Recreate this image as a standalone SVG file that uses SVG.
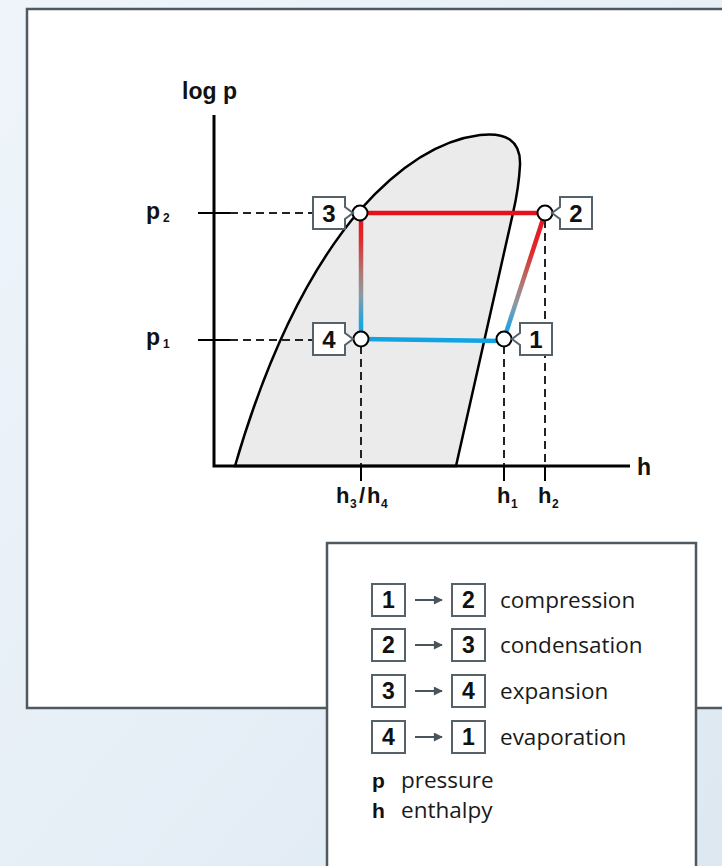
<svg xmlns="http://www.w3.org/2000/svg" width="722" height="866" viewBox="0 0 722 866">
<defs>
<linearGradient id="bg" x1="0" y1="0" x2="1" y2="1">
<stop offset="0" stop-color="#eef4fa"/>
<stop offset="0.5" stop-color="#e7eff7"/>
<stop offset="1" stop-color="#dde8f1"/>
</linearGradient>
<linearGradient id="g34" gradientUnits="userSpaceOnUse" x1="0" y1="213" x2="0" y2="339">
<stop offset="0" stop-color="#e5121c"/>
<stop offset="0.2" stop-color="#e0282b"/>
<stop offset="0.48" stop-color="#ad7a74"/>
<stop offset="0.65" stop-color="#8b9ba5"/>
<stop offset="0.85" stop-color="#2aa3dc"/>
<stop offset="1" stop-color="#12a3e3"/>
</linearGradient>
<linearGradient id="g21" gradientUnits="userSpaceOnUse" x1="0" y1="213" x2="0" y2="339">
<stop offset="0" stop-color="#e5121c"/>
<stop offset="0.3" stop-color="#e0282b"/>
<stop offset="0.55" stop-color="#b07670"/>
<stop offset="0.72" stop-color="#8b9ba5"/>
<stop offset="0.9" stop-color="#2aa3dc"/>
<stop offset="1" stop-color="#12a3e3"/>
</linearGradient>
<marker id="arr" viewBox="0 0 10 10" refX="9" refY="5" markerWidth="10" markerHeight="9" orient="auto" markerUnits="userSpaceOnUse">
<path d="M0,0 L10,5 L0,10 Z" fill="#4a555b"/>
</marker>
</defs>
<style>
.frame{fill:#fff;stroke:#4f5a60;stroke-width:2.5}
.tag{fill:#fff;stroke:#56626a;stroke-width:2}
.pt{fill:#fff;stroke:#000;stroke-width:2}
.dash{stroke:#222;stroke-width:2;stroke-dasharray:8 5;fill:none}
.solid{stroke:#000;stroke-width:2;fill:none}
.axis{stroke:#000;stroke-width:3;fill:none}
.lbl{font-family:"Liberation Sans",Arial,sans-serif;font-weight:bold;fill:#111}
.num{font-family:"Liberation Sans",Arial,sans-serif;font-weight:bold;font-size:24px;fill:#111;text-anchor:middle}
.lnum{font-family:"Liberation Sans",Arial,sans-serif;font-weight:bold;font-size:23px;fill:#111;text-anchor:middle}
.ltxt{font-family:"Open Sans",sans-serif;font-size:22.5px;fill:#1a1a1a}
.sub{font-family:"Liberation Sans",Arial,sans-serif;font-weight:bold;font-size:12px;fill:#111}
</style>
<rect x="0" y="0" width="722" height="866" fill="url(#bg)"/>
<rect class="frame" x="27" y="9" width="710" height="699"/>

<g id="dome">
<path d="M235,466 C260,380 300,280 360,210 C400,165 440,140 480,135 C505,132 521,140 520,165 C519,185 516,200 513,213 L456,466 Z" fill="#ebebeb" stroke="#000" stroke-width="2.5"/>
</g>

<g id="connectors">
<line class="dash" x1="230" y1="213" x2="313" y2="213"/>
<line class="dash" x1="230" y1="340" x2="313" y2="340"/>
<line class="dash" x1="361" y1="346" x2="361" y2="466"/>
<line class="dash" x1="504" y1="346" x2="504" y2="466"/>
<line class="dash" x1="545" y1="220" x2="545" y2="466"/>
<line class="solid" x1="361" y1="466" x2="361" y2="481"/>
<line class="solid" x1="504" y1="466" x2="504" y2="481"/>
<line class="solid" x1="545" y1="466" x2="545" y2="481"/>
<line class="solid" x1="198" y1="213" x2="230" y2="213"/>
<line class="solid" x1="198" y1="340" x2="230" y2="340"/>
<line x1="361" y1="213" x2="545" y2="213" stroke="#e5121c" stroke-width="4.5"/>
<line x1="545" y1="213" x2="504" y2="339" stroke="url(#g21)" stroke-width="4.5"/>
<line x1="361" y1="213" x2="361" y2="339" stroke="url(#g34)" stroke-width="4.5"/>
<line x1="361" y1="339" x2="504" y2="341" stroke="#12a3e3" stroke-width="4.5"/>
</g>

<g id="axes">
<polyline class="axis" points="214,115 214,466 630,466"/>
<text class="lbl" x="182" y="99" font-size="23">log p</text>
<text class="lbl" x="637" y="475" font-size="23">h</text>
<text class="lbl" x="146" y="219" font-size="23">p</text>
<text class="sub" x="163" y="222">2</text>
<text class="lbl" x="146" y="345" font-size="23">p</text>
<text class="sub" x="163" y="348">1</text>
<text class="lbl" x="336" y="503" font-size="22">h</text>
<text class="sub" x="350" y="508">3</text>
<text class="lbl" x="359" y="503" font-size="22">/</text>
<text class="lbl" x="367" y="503" font-size="22">h</text>
<text class="sub" x="381" y="508">4</text>
<text class="lbl" x="497" y="503" font-size="22">h</text>
<text class="sub" x="511" y="508">1</text>
<text class="lbl" x="538" y="503" font-size="22">h</text>
<text class="sub" x="552" y="508">2</text>
</g>

<g id="node-1">
<circle class="pt" cx="504" cy="339" r="7.5"/>
<path class="tag" d="M520,323 H552 V355 H520 V345 L512,339 L520,333 Z"/>
<text class="num" x="536" y="347.5">1</text>
</g>
<g id="node-2">
<circle class="pt" cx="545" cy="213" r="7.5"/>
<path class="tag" d="M560,197 H592 V229 H560 V219 L552,213 L560,207 Z"/>
<text class="num" x="576" y="221.5">2</text>
</g>
<g id="node-3">
<circle class="pt" cx="360" cy="213" r="7.5"/>
<path class="tag" d="M313,197 H345 V207 L353,213 L345,219 V229 H313 Z"/>
<text class="num" x="329" y="221.5">3</text>
</g>
<g id="node-4">
<circle class="pt" cx="361" cy="339" r="7.5"/>
<path class="tag" d="M313,323 H345 V333 L353,339 L345,345 V355 H313 Z"/>
<text class="num" x="329" y="347.5">4</text>
</g>

<g id="legend">
<rect class="frame" x="327" y="543" width="369" height="340"/>
<rect class="tag" x="372" y="584" width="33" height="32"/>
<text class="lnum" x="388.5" y="608">1</text>
<line x1="415" y1="600" x2="442" y2="600" stroke="#4a555b" stroke-width="2" marker-end="url(#arr)"/>
<rect class="tag" x="452" y="584" width="33" height="32"/>
<text class="lnum" x="468.5" y="608">2</text>
<text class="ltxt" x="500" y="608">compression</text>

<rect class="tag" x="372" y="629" width="33" height="32"/>
<text class="lnum" x="388.5" y="653">2</text>
<line x1="415" y1="645" x2="442" y2="645" stroke="#4a555b" stroke-width="2" marker-end="url(#arr)"/>
<rect class="tag" x="452" y="629" width="33" height="32"/>
<text class="lnum" x="468.5" y="653">3</text>
<text class="ltxt" x="500" y="653">condensation</text>

<rect class="tag" x="372" y="675" width="33" height="32"/>
<text class="lnum" x="388.5" y="699">3</text>
<line x1="415" y1="691" x2="442" y2="691" stroke="#4a555b" stroke-width="2" marker-end="url(#arr)"/>
<rect class="tag" x="452" y="675" width="33" height="32"/>
<text class="lnum" x="468.5" y="699">4</text>
<text class="ltxt" x="500" y="699">expansion</text>

<rect class="tag" x="372" y="721" width="33" height="32"/>
<text class="lnum" x="388.5" y="745">4</text>
<line x1="415" y1="737" x2="442" y2="737" stroke="#4a555b" stroke-width="2" marker-end="url(#arr)"/>
<rect class="tag" x="452" y="721" width="33" height="32"/>
<text class="lnum" x="468.5" y="745">1</text>
<text class="ltxt" x="500" y="745">evaporation</text>

<text class="lbl" x="372" y="788" font-size="21">p</text>
<text class="ltxt" x="401" y="788" font-size="20">pressure</text>
<text class="lbl" x="372" y="818" font-size="21">h</text>
<text class="ltxt" x="401" y="818" font-size="20">enthalpy</text>
</g>
</svg>
